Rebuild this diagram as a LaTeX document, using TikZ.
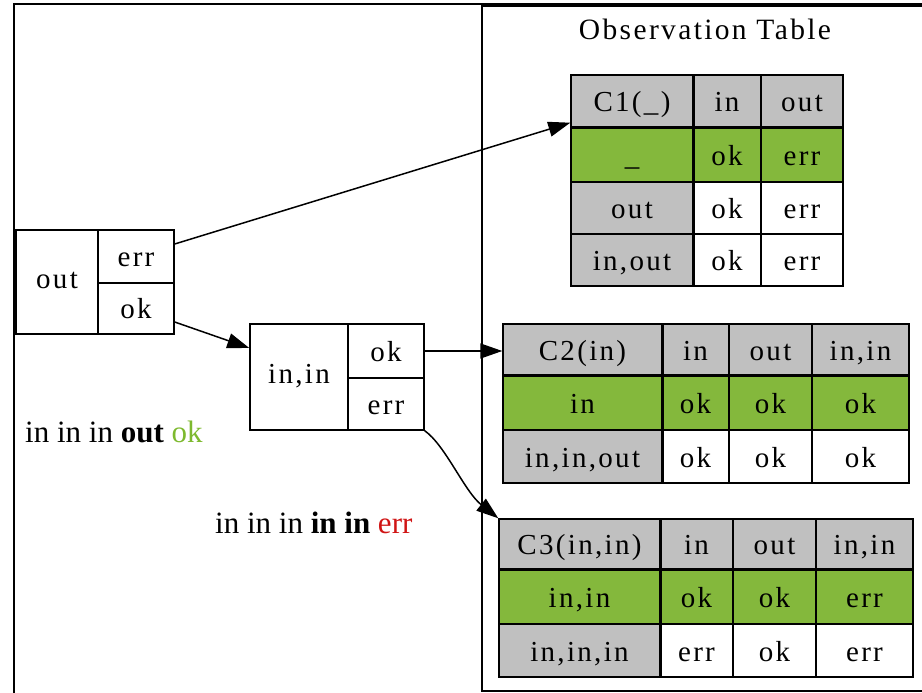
\documentclass[tikz,border=0pt]{standalone}
\usepackage{fontspec}
\setmainfont{Liberation Serif}
\newfontfamily\gvfont[LetterSpace=8]{Liberation Serif}
\usetikzlibrary{arrows.meta}

\definecolor{cellgrey}{HTML}{C0C0C0}
\definecolor{cellgreen}{HTML}{84B83C}
\definecolor{okgreen}{HTML}{7DB92E}
\definecolor{errred}{HTML}{D01515}

\tikzset{
  gvtext/.style={font=\gvfont\fontsize{29}{29}\selectfont},
  cellbase/.style={draw=black, line width=1.4pt, inner sep=0pt, text height=21pt, text depth=0pt, gvtext},
  hdr/.style={cellbase, fill=cellgrey},
  grn/.style={cellbase, fill=cellgreen},
  wht/.style={cellbase, fill=white},
  field/.style={draw=black, line width=1.4pt, inner sep=0pt, text height=20pt, text depth=0pt, gvtext},
  wholefield/.style={field, text height=12pt},
  edge/.style={draw=black, line width=1.5pt, -{Triangle[length=22pt,width=15pt]}},
  divider/.style={draw=black, line width=3pt},
  freelabel/.style={inner sep=0pt, anchor=base west, font=\fontsize{31}{31}\selectfont},
}

% box from (x0,y0) to (x1,y1), y measured downwards
\newcommand\gvbox[7]{%
  \node[#1, minimum width={#5pt-#3pt}, minimum height={#6pt-#4pt}] (#2) at ({(#3+#5)/2},{(#4+#6)/2}) {#7};}

\begin{document}
\begin{tikzpicture}[x=1pt, y=-1pt]
\useasboundingbox (0,0) rectangle (922,693);

% outer graph frame and the observation table cluster
\draw[line width=2pt] (14,693) -- (14,4) -- (922,4);
\draw[line width=1.5pt] (922,6) -- (482,6) -- (482,691) -- (922,691);
\node[inner sep=0pt, anchor=base, font=\gvfont\fontsize{29.5}{29.5}\selectfont] (title) at (705,40) {Observation Table};

% record node: out
\gvbox{wholefield}{o-name}{16}{230}{98}{334}{out}
\gvbox{field}{o-err}{98}{230}{174}{283}{err}
\gvbox{field}{o-ok}{98}{283}{174}{334}{ok}

% record node: in,in
\gvbox{wholefield}{ii-name}{250}{324}{348}{430}{in,in}
\gvbox{field}{ii-ok}{348}{324}{424}{378}{ok}
\gvbox{field}{ii-err}{348}{378}{424}{430}{err}

% table C1
\gvbox{hdr}{c1-00}{571}{75}{693}{127}{C1(\_)}
\gvbox{hdr}{c1-01}{693}{75}{761}{127}{in}
\gvbox{hdr}{c1-02}{761}{75}{843}{127}{out}
\gvbox{grn}{c1-10}{571}{127}{693}{182}{\_}
\gvbox{grn}{c1-11}{693}{127}{761}{182}{ok}
\gvbox{grn}{c1-12}{761}{127}{843}{182}{err}
\gvbox{hdr}{c1-20}{571}{182}{693}{234}{out}
\gvbox{wht}{c1-21}{693}{182}{761}{234}{ok}
\gvbox{wht}{c1-22}{761}{182}{843}{234}{err}
\gvbox{hdr}{c1-30}{571}{234}{693}{286}{in,out}
\gvbox{wht}{c1-31}{693}{234}{761}{286}{ok}
\gvbox{wht}{c1-32}{761}{234}{843}{286}{err}
\draw[divider] (c1-00.north east) -- (c1-30.south east);
\draw[divider] (c1-00.south west) -- (c1-02.south east);

% table C2
\gvbox{hdr}{c2-00}{503}{324}{662}{375}{C2(in)}
\gvbox{hdr}{c2-01}{662}{324}{729}{375}{in}
\gvbox{hdr}{c2-02}{729}{324}{812}{375}{out}
\gvbox{hdr}{c2-03}{812}{324}{909}{375}{in,in}
\gvbox{grn}{c2-10}{503}{375}{662}{430}{in}
\gvbox{grn}{c2-11}{662}{375}{729}{430}{ok}
\gvbox{grn}{c2-12}{729}{375}{812}{430}{ok}
\gvbox{grn}{c2-13}{812}{375}{909}{430}{ok}
\gvbox{hdr}{c2-20}{503}{430}{662}{483}{in,in,out}
\gvbox{wht}{c2-21}{662}{430}{729}{483}{ok}
\gvbox{wht}{c2-22}{729}{430}{812}{483}{ok}
\gvbox{wht}{c2-23}{812}{430}{909}{483}{ok}
\draw[divider] (c2-00.north east) -- (c2-20.south east);
\draw[divider] (c2-00.south west) -- (c2-03.south east);

% table C3
\gvbox{hdr}{c3-00}{499}{519}{660}{569}{C3(in,in)}
\gvbox{hdr}{c3-01}{660}{519}{733}{569}{in}
\gvbox{hdr}{c3-02}{733}{519}{816}{569}{out}
\gvbox{hdr}{c3-03}{816}{519}{913}{569}{in,in}
\gvbox{grn}{c3-10}{499}{569}{660}{624}{in,in}
\gvbox{grn}{c3-11}{660}{569}{733}{624}{ok}
\gvbox{grn}{c3-12}{733}{569}{816}{624}{ok}
\gvbox{grn}{c3-13}{816}{569}{913}{624}{err}
\gvbox{hdr}{c3-20}{499}{624}{660}{677}{in,in,in}
\gvbox{wht}{c3-21}{660}{624}{733}{677}{err}
\gvbox{wht}{c3-22}{733}{624}{816}{677}{ok}
\gvbox{wht}{c3-23}{816}{624}{913}{677}{err}
\draw[divider] (c3-00.north east) -- (c3-20.south east);
\draw[divider] (c3-00.south west) -- (c3-03.south east);

% free labels
\node[freelabel] (lab-ok) at (25,442) {in in in \textbf{out} \textcolor{okgreen}{ok}};
\node[freelabel] (lab-err) at (215,533) {in in in \textbf{in in} \textcolor{errred}{err}};

% transitions
\draw[edge] ([yshift=12.5pt]o-err.east) -- ([yshift=5pt]c1-00.south west);
\draw[edge] ([yshift=-13.5pt]o-ok.east) -- ([yshift=29pt]ii-name.west);
\draw[edge] (ii-ok.east) -- (ii-ok.east -| c2-00.west);
\draw[edge] (ii-err.south east) .. controls +(21,15) and +(-34,-27) .. (c3-00.north west);
\end{tikzpicture}
\end{document}
